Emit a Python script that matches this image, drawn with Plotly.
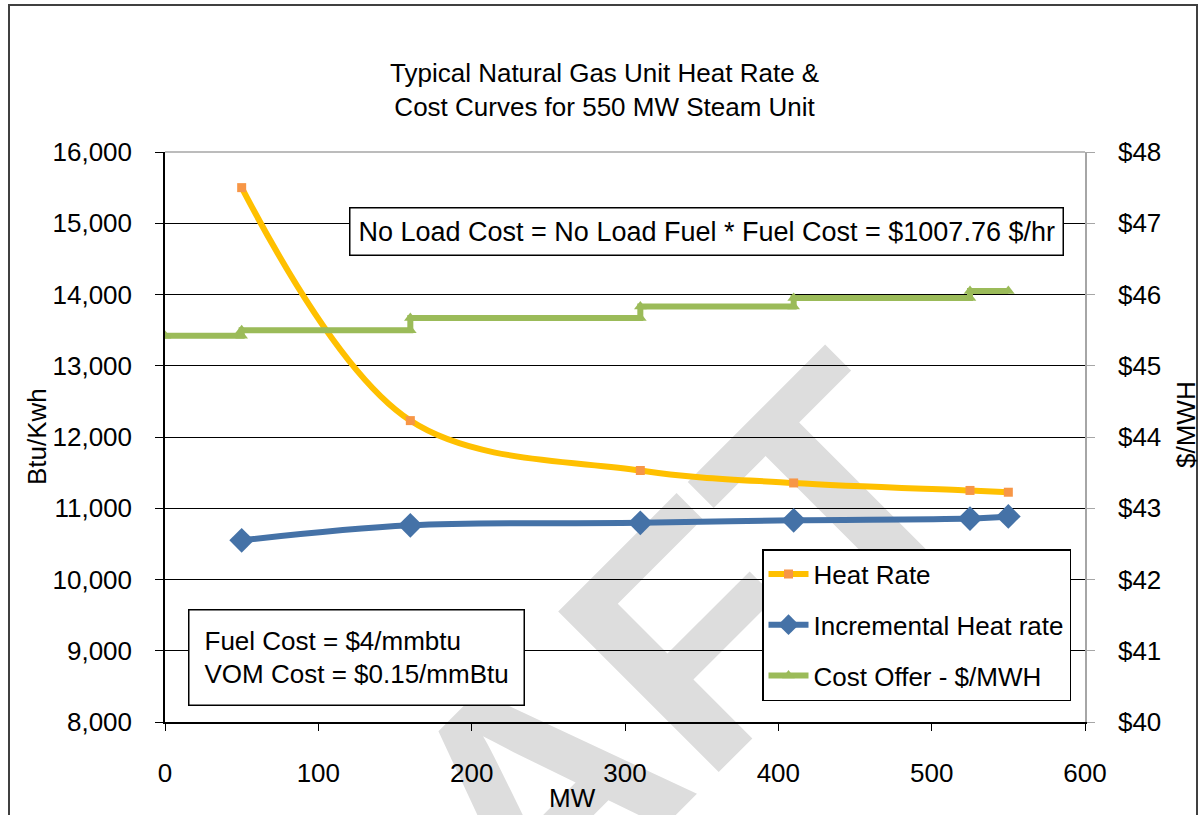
import plotly.graph_objects as go

# ---- data ----
mw_points = [50, 160, 310, 410, 525, 550]
heat_rate = [15500, 12230, 11530, 11355, 11250, 11225]
incremental_hr = [10550, 10760, 10795, 10830, 10855, 10885]

cost_mw = [0, 50, 50, 160, 160, 310, 310, 410, 410, 525, 525, 550]
cost_offer = [45.42, 45.42, 45.50, 45.50, 45.67, 45.67, 45.83, 45.83, 45.95, 45.95, 46.05, 46.05]

x_ticks = [0, 100, 200, 300, 400, 500, 600]
left_ticks = [8000, 9000, 10000, 11000, 12000, 13000, 14000, 15000, 16000]
right_ticks = [40, 41, 42, 43, 44, 45, 46, 47, 48]
right_tick_labels = ["$40", "$41", "$42", "$43", "$44", "$45", "$46", "$47", "$48"]

FONT = "Liberation Sans, Arial, sans-serif"
W, H = 1200, 815
L, R, T, B = 165, 115, 152, 93
PW, PH = W - L - R, H - T - B


def px(xp):
    return (xp - L) / PW


def py(yp):
    return (H - B - yp) / PH


fig = go.Figure()

fig.add_trace(go.Scatter(
    x=cost_mw, y=cost_offer, yaxis="y2", name="Cost Offer - $/MWH",
    mode="lines+markers", legendrank=3, legendgroup="c",
    line=dict(color="#9BBB59", width=6),
    marker=dict(symbol="triangle-up", size=11, color="#9BBB59"),
))
fig.add_trace(go.Scatter(
    x=mw_points, y=incremental_hr, name="Incremental Heat rate",
    mode="lines+markers", legendrank=2, legendgroup="b",
    line=dict(color="#4572A7", width=6, shape="spline", smoothing=1),
    marker=dict(symbol="diamond", size=19, color="#4572A7"),
))
fig.add_trace(go.Scatter(
    x=mw_points, y=heat_rate, name="Heat Rate",
    mode="lines+markers", legendrank=1, legendgroup="a",
    line=dict(color="#FFC000", width=6, shape="spline", smoothing=1),
    marker=dict(symbol="square", size=9, color="#F79646"),
))

wm_x, wm_y = 490, 795
shapes = [
    # watermark
    dict(type="rect", xref="paper", yref="paper", layer="below",
         x0=px(wm_x - 10), x1=px(wm_x + 10), y0=py(wm_y + 10), y1=py(wm_y - 10),
         line=dict(width=0), fillcolor="rgba(0,0,0,0)",
         label=dict(text="<b>DRAFT</b>", textangle=-45, textposition="middle center",
                    font=dict(family=FONT, size=330, color="#DDDDDD"))),
    # top plot border (gray)
    dict(type="line", xref="paper", yref="paper", x0=0, x1=1, y0=1, y1=1,
         line=dict(color="#A6A6A6", width=1.5), layer="above"),
    # outer chart border
    dict(type="rect", xref="paper", yref="paper",
         x0=px(9), x1=px(1197), y0=py(840), y1=py(5),
         line=dict(color="#404040", width=2), fillcolor="rgba(0,0,0,0)", layer="below"),
]

annotations = [
    dict(text="Typical Natural Gas Unit Heat Rate &<br>Cost Curves for 550 MW Steam Unit",
         xref="paper", yref="paper", x=px(604), y=py(90), showarrow=False,
         xanchor="center", yanchor="middle", font=dict(family=FONT, size=26, color="black")),
    dict(text="Btu/Kwh", xref="paper", yref="paper", x=px(37), y=py(437), textangle=-90,
         xanchor="center", yanchor="middle",
         showarrow=False, font=dict(family=FONT, size=26, color="black")),
    dict(text="$/MWH", xref="paper", yref="paper", x=px(1186), y=py(425), textangle=-90,
         xanchor="center", yanchor="middle",
         showarrow=False, font=dict(family=FONT, size=26, color="black")),
    dict(text="MW", xref="paper", yref="paper", x=px(572), y=py(798),
         xanchor="center", yanchor="middle",
         showarrow=False, font=dict(family=FONT, size=26, color="black")),
    dict(text="No Load Cost = No Load Fuel * Fuel Cost = $1007.76 $/hr",
         xref="paper", yref="paper", x=px(706), y=py(231), showarrow=False,
         xanchor="center", yanchor="middle",
         bgcolor="white", bordercolor="black", borderwidth=1.5, borderpad=8,
         font=dict(family=FONT, size=27, color="black")),
    dict(text="Fuel Cost = $4/mmbtu<br>VOM Cost = $0.15/mmBtu", align="left",
         xref="paper", yref="paper", x=px(356), y=py(657), showarrow=False,
         xanchor="center", yanchor="middle",
         bgcolor="white", bordercolor="black", borderwidth=1.5, borderpad=15,
         font=dict(family=FONT, size=26, color="black")),
]

fig.update_layout(
    width=W, height=H,
    margin=dict(l=L, r=R, t=T, b=B),
    paper_bgcolor="white", plot_bgcolor="rgba(0,0,0,0)",
    font=dict(family=FONT, size=26, color="black"),
    showlegend=True,
    legend=dict(x=px(762), y=py(549), xanchor="left", yanchor="top",
                bgcolor="white", bordercolor="black", borderwidth=1.5,
                font=dict(family=FONT, size=26, color="black"),
                tracegroupgap=14, itemwidth=40),
    xaxis=dict(range=[0, 600], tickvals=x_ticks, ticks="outside", ticklen=7,
               tickcolor="black", showline=True, linecolor="black", linewidth=1.5,
               showgrid=False, zeroline=False, ticklabelstandoff=20,
               tickfont=dict(family=FONT, size=26, color="black")),
    yaxis=dict(range=[8000, 16000], tickvals=left_ticks, tickformat=",d",
               ticks="outside", ticklen=8, tickcolor="black",
               showline=True, linecolor="black", linewidth=1.5,
               showgrid=True, gridcolor="black", gridwidth=1, zeroline=False,
               ticklabelstandoff=18,
               tickfont=dict(family=FONT, size=26, color="black")),
    yaxis2=dict(range=[40, 48], tickvals=right_ticks, ticktext=right_tick_labels,
                overlaying="y", side="right", ticks="outside", ticklen=8,
                tickcolor="#A6A6A6", showline=True, linecolor="#A6A6A6", linewidth=1.5,
                showgrid=False, zeroline=False, ticklabelstandoff=18,
                tickfont=dict(family=FONT, size=26, color="black")),
    shapes=shapes,
    annotations=annotations,
)

fig.write_html("out.html", config={"displayModeBar": False},
               post_script="document.body.style.margin='0';")
